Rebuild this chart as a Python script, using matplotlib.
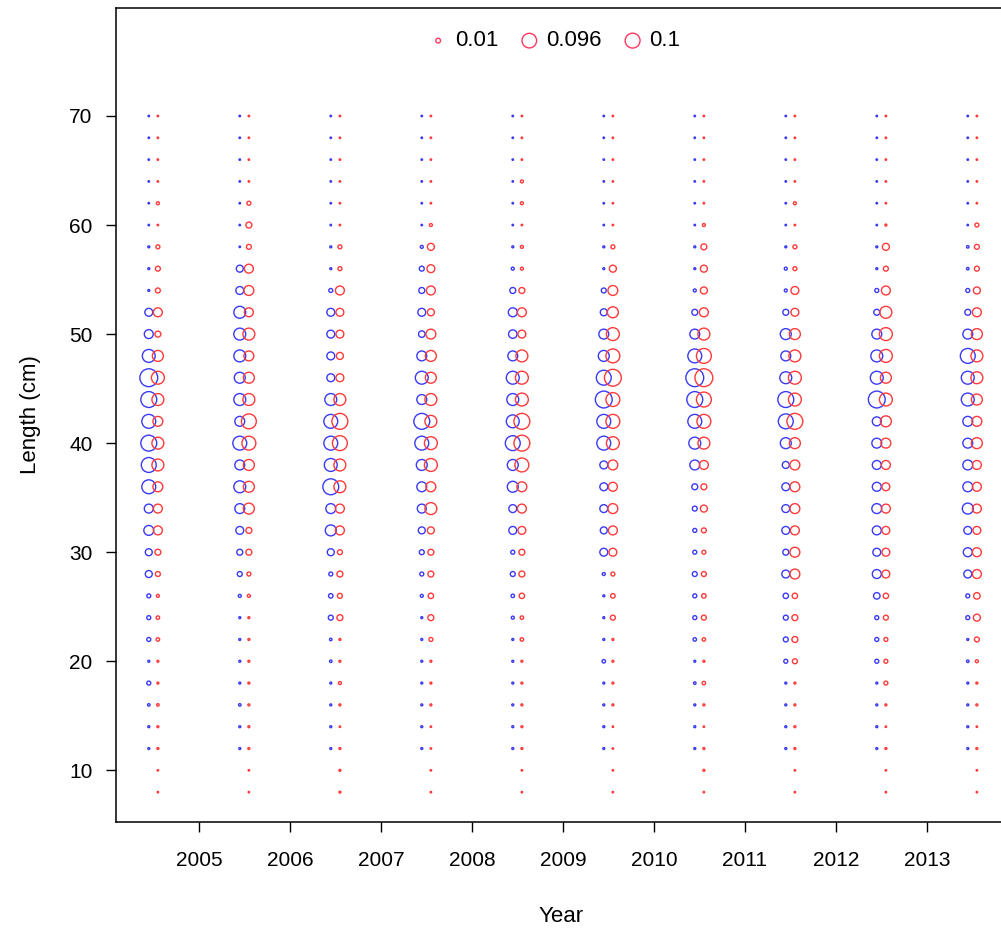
import numpy as np
import matplotlib
matplotlib.use("Agg")
import matplotlib.pyplot as plt

plt.rcParams['font.family'] = ['Liberation Sans', 'DejaVu Sans']

years = [2004, 2005, 2006, 2007, 2008, 2009, 2010, 2011, 2012, 2013]
lengths = list(range(8, 72, 2))  # 8 .. 70 cm

# proportions by length (8..70) for each year
prop_blue = [
    [0, 0, .0018, .0018, .0028, .0071, .0018, .0071, .0071, .0071, .022, .022, .044, .036, .087, .1, .114, .087, .114, .144, .075, .036, .028, .0018, .0018, .0018, .001, .001, .001, .001, .001, .001],
    [0, 0, .0018, .0018, .0028, .0018, .0018, .0018, .0018, .004, .011, .016, .028, .044, .064, .044, .087, .044, .064, .054, .064, .064, .064, .028, .022, .001, .001, .001, .001, .001, .001, .001],
    [0, 0, .0018, .0018, .0018, .0018, .0028, .0028, .011, .009, .0071, .022, .054, .044, .114, .075, .087, .087, .064, .028, .028, .028, .028, .0071, .0018, .0018, .001, .001, .001, .001, .001, .001],
    [0, 0, .0018, .0018, .0018, .0018, .0018, .0018, .0018, .004, .0071, .011, .022, .036, .044, .054, .087, .114, .044, .075, .044, .019, .028, .016, .011, .004, .001, .001, .001, .001, .001, .001],
    [0, 0, .0018, .0018, .0018, .0018, .0018, .0018, .004, .0054, .011, .0071, .028, .028, .054, .054, .1, .075, .064, .075, .044, .032, .036, .016, .004, .0018, .001, .001, .001, .001, .001, .001],
    [0, 0, .0018, .0018, .0018, .0018, .0054, .0018, .0018, .0018, .004, .028, .022, .028, .028, .028, .087, .087, .128, .1, .054, .044, .022, .011, .0018, .0018, .001, .001, .001, .001, .001, .001],
    [0, 0, .0018, .0018, .0018, .0028, .0018, .0054, .0071, .0071, .011, .0071, .0071, .011, .016, .044, .064, .087, .114, .144, .087, .044, .016, .004, .0018, .0018, .001, .001, .001, .001, .001, .001],
    [0, 0, .0018, .0018, .0018, .0018, .0071, .011, .011, .013, .028, .016, .028, .028, .028, .022, .054, .1, .114, .064, .044, .054, .016, .004, .004, .0018, .001, .001, .001, .001, .001, .001],
    [0, 0, .0018, .0018, .0018, .0018, .0071, .0071, .0071, .019, .036, .028, .036, .044, .036, .036, .044, .036, .128, .075, .064, .044, .016, .0071, .0018, .0018, .001, .001, .001, .001, .001, .001],
    [0, 0, .0018, .0018, .0018, .0018, .0028, .0018, .0071, .0071, .028, .036, .028, .054, .044, .044, .044, .044, .075, .075, .1, .044, .016, .0071, .0028, .0028, .001, .001, .001, .001, .001, .001],
]

prop_red = [
    [.001, .001, .0018, .0018, .0028, .0018, .0018, .0054, .0054, .004, .011, .016, .036, .036, .044, .064, .064, .044, .064, .075, .054, .016, .036, .011, .011, .0071, .001, .004, .001, .001, .001, .001],
    [.001, .001, .0018, .0018, .0018, .0018, .0018, .0018, .0018, .004, .0071, .016, .016, .054, .054, .054, .087, .1, .064, .054, .044, .064, .036, .044, .036, .011, .016, .0071, .001, .001, .001, .001],
    [.0018, .0018, .0018, .001, .0018, .004, .0018, .0018, .016, .011, .016, .011, .036, .036, .064, .064, .1, .114, .064, .028, .022, .028, .028, .036, .0071, .0071, .001, .001, .001, .001, .001, .001],
    [.001, .001, .001, .001, .0018, .0018, .0018, .0071, .016, .013, .016, .016, .022, .064, .044, .075, .075, .064, .064, .054, .054, .044, .022, .036, .028, .022, .004, .001, .001, .001, .001, .001],
    [.001, .001, .0018, .0018, .0018, .0018, .0018, .0054, .0054, .013, .016, .016, .028, .036, .044, .087, .114, .114, .075, .075, .064, .028, .036, .016, .004, .004, .001, .004, .004, .001, .001, .001],
    [.001, .001, .001, .001, .0018, .0018, .0018, .0018, .011, .009, .0071, .028, .036, .044, .036, .044, .075, .087, .087, .128, .087, .075, .054, .044, .022, .0071, .001, .001, .001, .001, .001, .001],
    [.001, .0018, .0018, .001, .0018, .0054, .0018, .0054, .011, .009, .011, .0071, .011, .022, .016, .036, .064, .087, .1, .144, .1, .064, .036, .022, .022, .016, .004, .001, .001, .001, .001, .001],
    [.001, .001, .0018, .0018, .0018, .0018, .011, .016, .016, .013, .044, .044, .036, .044, .044, .044, .054, .114, .075, .075, .064, .054, .028, .028, .0071, .0071, .001, .004, .001, .001, .001, .001],
    [.001, .001, .0018, .001, .0018, .0071, .0071, .0071, .011, .013, .028, .028, .028, .036, .028, .036, .044, .054, .075, .054, .075, .075, .064, .036, .011, .022, .0018, .001, .001, .001, .001, .001],
    [.001, .001, .0018, .001, .0018, .0018, .004, .011, .022, .019, .036, .036, .028, .036, .036, .036, .054, .044, .054, .064, .064, .054, .036, .022, .011, .011, .0071, .001, .001, .001, .001, .001],
]

legend_values = [0.01, 0.096, 0.1]
legend_labels = ["0.01", "0.096", "0.1"]

BLUE = "#3a3af5"
RED = "#ff3a3a"
SIZE_K = 1150.0  # points^2 per unit proportion

fig = plt.figure(figsize=(10.01, 9.32), dpi=100)
ax = fig.add_axes([0.1159, 0.118, 0.890, 0.8734])

L = np.array(lengths, dtype=float)
for i, yr in enumerate(years):
    b = np.array(prop_blue[i], dtype=float)
    r = np.array(prop_red[i], dtype=float)
    mb = b > 0
    mr = r > 0
    ax.scatter(np.full(mb.sum(), yr + 0.45), L[mb], s=SIZE_K * b[mb],
               facecolors='none', edgecolors=BLUE, linewidths=1.0)
    ax.scatter(np.full(mr.sum(), yr + 0.55), L[mr], s=SIZE_K * r[mr],
               facecolors='none', edgecolors=RED, linewidths=1.0)

handles = [ax.scatter([], [], s=SIZE_K * v, facecolors='none',
                      edgecolors="#ff3860", linewidths=1.0) for v in legend_values]
ax.legend(handles, legend_labels, ncol=3, loc='upper center',
          bbox_to_anchor=(0.49, 0.997), frameon=False, fontsize=16,
          handletextpad=0.15, columnspacing=0.8, handlelength=1.2,
          scatterpoints=1)

ax.set_xlim(2004.09, 2013.88)
ax.set_ylim(5.26, 79.9)
ax.set_xticks(range(2005, 2014))
ax.set_yticks(range(10, 80, 10))
ax.tick_params(axis='x', direction='out', length=7, width=1, pad=14, labelsize=15)
ax.tick_params(axis='y', direction='out', length=7, width=1, pad=10, labelsize=15)
for sp in ax.spines.values():
    sp.set_linewidth(1.1)
ax.spines['right'].set_visible(False)

ax.set_xlabel("Year", fontsize=16, labelpad=26)
ax.set_ylabel("Length (cm)", fontsize=16, labelpad=20)

fig.savefig("out.png", dpi=100)
